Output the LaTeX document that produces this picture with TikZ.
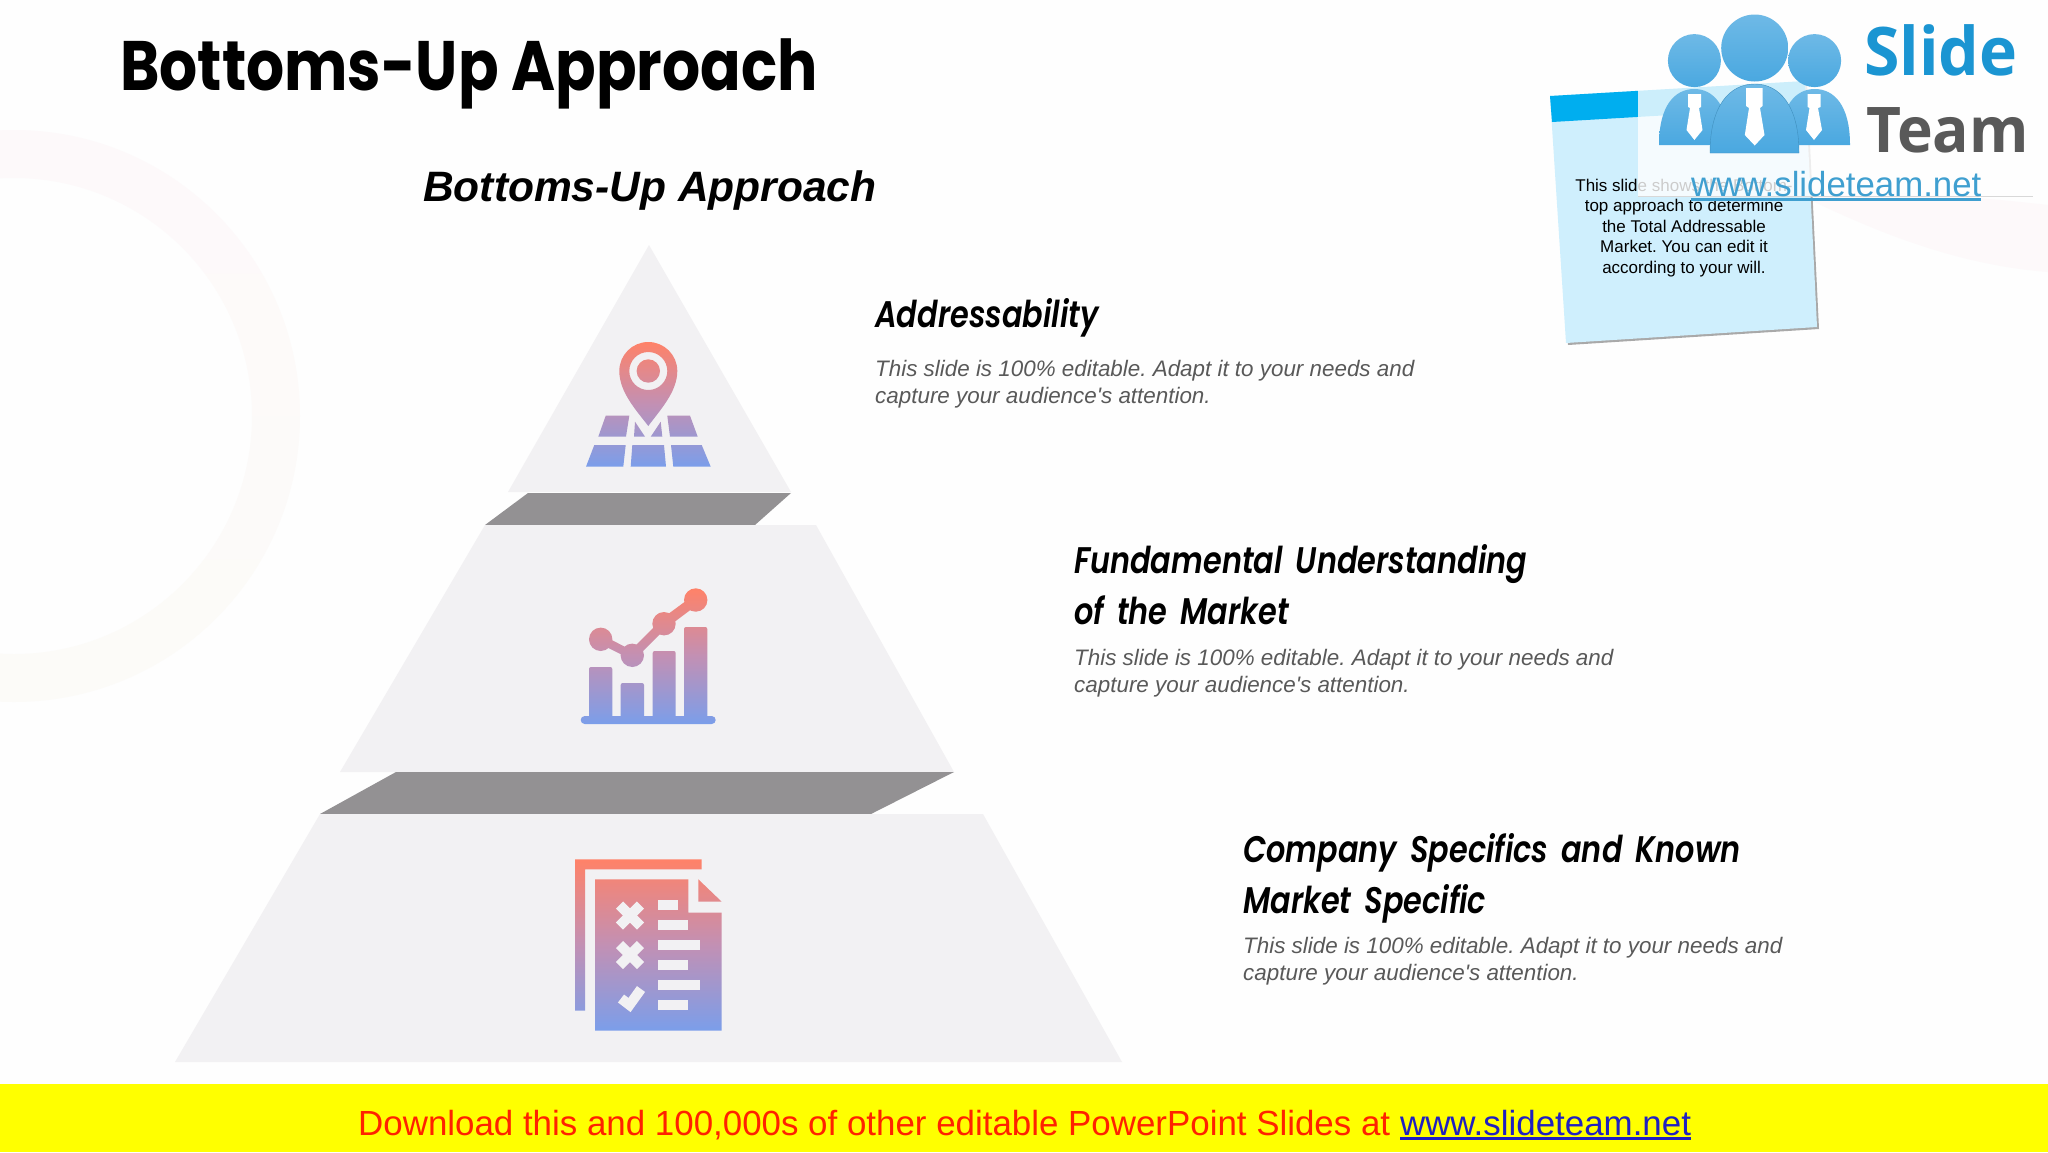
\documentclass[tikz,border=0pt]{standalone}
\usepackage{fontspec}
\setmainfont{Liberation Sans}
\newfontfamily\titlefont[FakeStretch=0.855]{Poppins}
\newfontfamily\headfont[FakeStretch=0.82, WordSpace=1.6, BoldItalicFont={Poppins SemiBold Italic}]{Poppins}
\newfontfamily\logofont[FakeStretch=0.96]{Open Sans}
\definecolor{pagebg}{HTML}{FEFEFE}
\definecolor{ringtop}{HTML}{FDF9FA}
\definecolor{ringlow}{HTML}{FCFBF8}
\definecolor{pyrfill}{HTML}{F2F1F3}
\definecolor{pyrband}{HTML}{939193}
\definecolor{icontop}{HTML}{FF8268}
\definecolor{iconmid}{HTML}{C290B4}
\definecolor{iconlow}{HTML}{7B9EEA}
\definecolor{bodygrey}{HTML}{595959}
\definecolor{notefill}{HTML}{CFEFFD}
\definecolor{noteband}{HTML}{00AEEF}
\definecolor{noteshade}{HTML}{A9A9A9}
\definecolor{boxline}{HTML}{D8D8D8}
\definecolor{logoblue}{HTML}{4AA8E0}
\definecolor{logotext}{HTML}{1B95D2}
\definecolor{urlblue}{HTML}{3F9FD0}
\definecolor{bannerbg}{HTML}{FFFF00}
\definecolor{bannerred}{HTML}{FF2200}
\definecolor{bannerlink}{HTML}{2020C0}
\newcommand{\lnk}[1]{\setbox0\hbox{#1}\rlap{\rule[-4.5pt]{\wd0}{2.4pt}}\box0}
\tikzset{
	head/.style={anchor=base west, inner sep=0pt, align=left, font=\headfont\bfseries\itshape\fontsize{37}{51}\selectfont},
	bodytext/.style={anchor=north west, inner sep=0pt, align=left, text=bodygrey, font=\itshape\fontsize{22.4}{27.3}\selectfont},
	icon/.style={top color=icontop, bottom color=iconlow, middle color=iconmid},
	iconmark/.style={draw=pyrfill, line width=10pt},
	logopart/.style={top color=logoblue!80!white, bottom color=logoblue},
}
\begin{document}
\frenchspacing
\begin{tikzpicture}[x=1pt,y=-1pt]
		\useasboundingbox (0,0) rectangle (2048,1152);
		\fill[pagebg] (0,0) rectangle (2048,1152);
		
		\path[even odd rule, top color=ringtop, bottom color=ringlow] (14,416) circle (286) (14,416) circle (238);
		\fill[ringtop] (1790,190) .. controls (1880,235) and (1960,265) .. (2048,272) -- (2048,205) .. controls (1960,195) and (1880,190) .. (1790,190);
		
		\node[anchor=base west, inner sep=0pt, font=\titlefont\bfseries\fontsize{70}{70}\selectfont] (title) at (120,90) {Bottoms-Up Approach};
		\node[anchor=base west, inner sep=0pt, font=\bfseries\itshape\fontsize{42.5}{42.5}\selectfont] (subtitle) at (423,201) {Bottoms-Up Approach};
		
		\fill[pyrfill] (649,245) -- (791,492) -- (508,492) -- cycle;
		\fill[pyrband] (528,493) -- (791,493) -- (755,525) -- (485,525) -- cycle;
		\fill[pyrfill] (485,525) -- (816,525) -- (954,772) -- (340,772) -- cycle;
		\fill[pyrband] (396,772) -- (954,772) -- (871,814) -- (320,814) -- cycle;
		\fill[pyrfill] (320,814) -- (983,814) -- (1122,1062) -- (175,1062) -- cycle;
		
		\path[icon, even odd rule] (619.3,371) arc (180:360:29) .. controls (677.3,392) and (660,410) .. (648.3,426) .. controls (636,410) and (619.3,392) .. (619.3,371) -- cycle
			(648.3,371) circle (19) (648.3,371) circle (11.7)
			(605.7,415.7) -- (629.3,415.7) -- (626,436.7) -- (598.3,436.7) -- cycle
			(635,421.7) -- (645,436.7) -- (634,436.7) -- cycle
			(660.7,421.7) -- (662.3,436.7) -- (650.7,436.7) -- cycle
			(667.3,415.7) -- (690,415.7) -- (697.7,436.7) -- (670,436.7) -- cycle
			(594.3,445) -- (625.7,445) -- (623.3,466.7) -- (586,466.7) -- cycle
			(632.3,445) -- (664,445) -- (666,466.7) -- (630.7,466.7) -- cycle
			(671,445) -- (701.7,445) -- (710.7,466.7) -- (673.3,466.7) -- cycle;
		
		\path[icon, nonzero rule] (589,669) arc (180:270:2) -- (610.3,667) arc (270:360:2) -- (612.3,716) -- (620.7,716) -- (620.7,685) arc (180:270:2) -- (642,683) arc (270:360:2) -- (644,716) -- (652.7,716) -- (652.7,653) arc (180:270:2) -- (673.7,651) arc (270:360:2) -- (675.7,716) -- (684,716) -- (684,629) arc (180:270:2) -- (705.3,627) arc (270:360:2) -- (707.3,716) -- (711.7,716) arc (270:450:4) -- (584.7,724) arc (90:270:4) -- (589,716) -- cycle
			(600.7,639.3) circle (11.7) (632.3,655.3) circle (11.7) (664,623.7) circle (11.7) (695.7,600) circle (11.7)
			(603,635.5) -- (634,651.5) -- (630.5,659) -- (598.5,643) -- cycle
			(628.5,652.5) -- (660.5,620.5) -- (667,627) -- (635,659) -- cycle
			(660,620) -- (692,596.5) -- (699,603.5) -- (667,627.5) -- cycle;
		
		\path[icon, even odd rule] (575,859.3) -- (701.7,859.3) -- (701.7,869.3) -- (585,869.3) -- (585,1010.7) -- (575,1010.7) -- cycle
			(595,879.3) -- (688.3,879.3) -- (688.3,912.7) -- (721.7,912.7) -- (721.7,1030.7) -- (595,1030.7) -- cycle
			(698.3,879.3) -- (721.7,901.7) -- (698.3,901.7) -- cycle;
		\draw[iconmark] (619.5,905) -- (640.5,926);
		\draw[iconmark] (640.5,905) -- (619.5,926);
		\draw[iconmark] (619.5,944.5) -- (640.5,965.5);
		\draw[iconmark] (640.5,944.5) -- (619.5,965.5);
		\draw[iconmark] (621,998.5) -- (629.5,1005) -- (641,989);
		\fill[pyrfill] (658.3,900) rectangle (678.3,910);
		\fill[pyrfill] (658.3,920) rectangle (688.3,930);
		\fill[pyrfill] (658.3,940) rectangle (700,950);
		\fill[pyrfill] (658.3,960) rectangle (688.3,970);
		\fill[pyrfill] (658.3,980.3) rectangle (700,990.3);
		\fill[pyrfill] (658.3,1000.3) rectangle (688.3,1010.3);
		
		\node[head] (h1) at (875,327) {Addressability};
		\node[bodytext] (b1) at (875,360) {This slide is 100\% editable. Adapt it to your needs and\\capture your audience\textquotesingle s attention.};
		\node[head] (h2) at (1074,624) {Fundamental Understanding\\of the Market};
		\node[bodytext] (b2) at (1074,649) {This slide is 100\% editable. Adapt it to your needs and\\capture your audience\textquotesingle s attention.};
		\node[head] (h3) at (1243,913) {Company Specifics and Known\\Market Specific};
		\node[bodytext] (b3) at (1243,937) {This slide is 100\% editable. Adapt it to your needs and\\capture your audience\textquotesingle s attention.};
		
		\fill[noteshade] (1552,98) -- (1807,83) -- (1819,329) -- (1568,345) -- cycle;
		\fill[notefill] (1550,96) -- (1805,81) -- (1817,327) -- (1566,343) -- cycle;
		\fill[noteband] (1550,96) -- (1805,81) -- (1806.5,107) -- (1552,122) -- cycle;
		\node[inner sep=0pt, anchor=north, align=center, font=\fontsize{17}{20.5}\selectfont] (note) at (1684,178.5) {This slide shows the Bottom-\\top approach to determine\\the Total Addressable\\Market. You can edit it\\according to your will.};
		
		\fill[white, opacity=0.8] (1638,0) rectangle (2033,196);
		\draw[boxline, line width=0.8pt] (1638,196) -- (2033,196);
		
		\shade[logopart] (1694.4,60.6) circle (26.5);
		\shade[logopart] (1814.6,60.6) circle (26.5);
		\shade[logopart] (1754.7,48) circle (33.5);
		\shade[logopart] (1659,145) .. controls (1659,105) and (1675,89) .. (1694.4,89) .. controls (1713,89) and (1729,105) .. (1729,145) -- cycle;
		\shade[logopart] (1780,145) .. controls (1780,105) and (1796,89) .. (1814.6,89) .. controls (1834,89) and (1850,105) .. (1850,145) -- cycle;
		\shade[logopart, draw=logoblue!85!black] (1710,153) .. controls (1710,105) and (1730,84) .. (1754.7,84) .. controls (1779,84) and (1799,105) .. (1799,153) -- cycle;
		\fill[white] (1688,94) -- (1701,94) -- (1701,107) -- (1699,108) -- (1702.5,130) -- (1694.4,140) -- (1686.5,130) -- (1690,108) -- (1688,107) -- cycle;
		\fill[white] (1746,88) -- (1762.5,88) -- (1762.5,106) -- (1760,108) -- (1764.5,135) -- (1754.7,145.5) -- (1744.8,135) -- (1749,108) -- (1746,106) -- cycle;
		\fill[white] (1807.5,94) -- (1820.5,94) -- (1820.5,107) -- (1818,108) -- (1822,130) -- (1814,140) -- (1806,130) -- (1809.5,108) -- (1807.5,107) -- cycle;
		\node[anchor=base west, inner sep=0pt, text=logotext, font=\logofont\bfseries\fontsize{67}{67}\selectfont] (slide) at (1864,75) {Slide};
		\node[anchor=base west, inner sep=0pt, text=bodygrey, font=\logofont\bfseries\fontsize{63}{63}\selectfont] (team) at (1866,152) {Team};
		\node[anchor=base west, inner sep=0pt, text=urlblue, font=\fontsize{34.8}{34.8}\selectfont] (url) at (1691,196) {\lnk{www.slideteam.net}};
		
		\fill[bannerbg] (0,1084) rectangle (2048,1152);
		\node[anchor=base west, inner sep=0pt, font=\fontsize{34.9}{34.9}\selectfont, text=bannerred] (banner) at (358,1135) {Download this and 100,000s of other editable PowerPoint Slides at \textcolor{bannerlink}{\lnk{www.slideteam.net}}};
\end{tikzpicture}
\end{document}
